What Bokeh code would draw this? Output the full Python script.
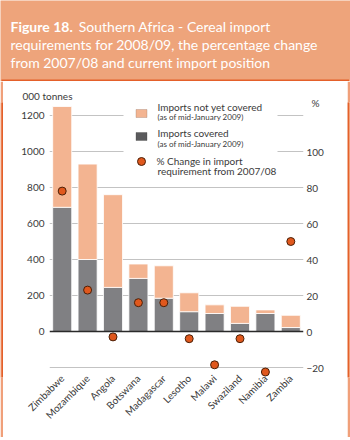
from math import pi
from bokeh.plotting import figure
from bokeh.layouts import column, row
from bokeh.models import (FactorRange, Range1d, LinearAxis, FixedTicker, Span, Label,
                          BoxAnnotation, Legend, LegendItem, ColumnDataSource, Title)
from bokeh.core.properties import value
from bokeh.embed import file_html
from bokeh.resources import INLINE

# ---------------- data ----------------
countries = ["Zimbabwe", "Mozambique", "Angola", "Botswana", "Madagascar",
             "Lesotho", "Malawi", "Swaziland", "Namibia", "Zambia"]
covered = [690, 400, 245, 295, 185, 110, 100, 45, 100, 22]          # 000 tonnes
not_covered = [560, 530, 515, 80, 180, 105, 48, 95, 20, 68]          # 000 tonnes
pct_change = [78, 23, -3, 16, 16, -4, -18.5, -4, -22.5, 50]          # %
left_ticks = [0, 200, 400, 600, 800, 1000, 1200]
right_ticks = [-20, 0, 20, 40, 60, 80, 100]
pct_unit_tick = 127
grid_ticks = [-200, 200, 400, 600, 800, 1000, 1200]

# ---------------- style ----------------
FONT = "Lato"
TXT = "#3a3a3a"
SALMON = "#f3b491"
GRAY = "#808083"
DOT = "#e0581d"
BAND = "#eea47b"
EDGE_DARK = "#e4602a"
EDGE_LIGHT = "#f0a07a"

W = 350
TOP_H = 81
PANEL_B = 437
SIDE_L, SIDE_R = 3, 3
MW = W - SIDE_L - SIDE_R
MH = PANEL_B - TOP_H

FL, FR, FT, FB = 49, 303, 102, 377
ZERO_Y = 331
PXU = 0.18
y_end = (ZERO_Y - FT) / PXU
y_start = -(FB - ZERO_Y) / PXU


def plain(w, h, bg):
    f = figure(width=w, height=h, x_axis_type=None, y_axis_type=None,
               output_backend="svg", toolbar_location=None, min_border=0,
               x_range=Range1d(0, 1), y_range=Range1d(0, 1), title=None)
    f.outline_line_color = None
    f.background_fill_color = bg
    f.border_fill_color = bg
    return f


def sbox(f, l, r, b, t, color, line=None, level="annotation"):
    f.add_layout(BoxAnnotation(left=l, right=r, bottom=b, top=t,
                               left_units="screen", right_units="screen",
                               top_units="screen", bottom_units="screen",
                               fill_color=color, fill_alpha=1, line_color=line,
                               line_width=1, level=level))


# ---------------- title band ----------------
T = plain(W, TOP_H, BAND)
sbox(T, 1, W - 1.5, 0, 2, EDGE_DARK)


def tlab(text, cx, cy, style="normal"):
    T.add_layout(Label(x=cx, y=TOP_H - cy, x_units="screen", y_units="screen",
                       text=text, text_font=FONT, text_font_size="14px",
                       text_color="white", text_font_style=style,
                       text_align="left", text_baseline="alphabetic"))


tlab("Figure 18.", 10, 25.7, style="bold")
tlab("Southern Africa - Cereal import", 78.3, 25.7)
tlab("requirements for 2008/09, the percentage change", 10, 44)
tlab("from 2007/08 and current import position", 10, 62.3)

# ---------------- side and bottom edges ----------------
L = plain(SIDE_L, MH, EDGE_LIGHT)
sbox(L, 1, 3, 0, MH, EDGE_DARK)
R = plain(SIDE_R, MH, EDGE_LIGHT)
sbox(R, 0, 1.5, 0, MH, EDGE_DARK)
B = plain(W, 440 - PANEL_B, EDGE_LIGHT)
sbox(B, 1, W - 1.5, 1.5, 3, EDGE_DARK)

# ---------------- main chart ----------------
p = figure(width=MW, height=MH, x_range=FactorRange(*countries),
           y_range=Range1d(y_start, y_end), title=None,
           output_backend="svg", toolbar_location=None,
           min_border_left=FL - SIDE_L, min_border_right=MW - (FR - SIDE_L),
           min_border_top=FT - TOP_H, min_border_bottom=PANEL_B - FB)
p.outline_line_color = None
p.background_fill_color = "white"
p.border_fill_color = "white"
p.extra_y_ranges = {"pct": Range1d(y_start / 10, y_end / 10)}


def style_axis(ax, standoff):
    ax.axis_line_color = None
    ax.major_tick_line_color = None
    ax.minor_tick_line_color = None
    ax.major_tick_out = 0
    ax.major_tick_in = 0
    ax.major_label_standoff = standoff
    ax.major_label_text_font = FONT
    ax.major_label_text_font_size = "10px"
    ax.major_label_text_color = TXT


ya = p.yaxis[0]
ya.ticker = FixedTicker(ticks=left_ticks)
style_axis(ya, 5)

ra = LinearAxis(y_range_name="pct", ticker=FixedTicker(ticks=right_ticks + [pct_unit_tick]),
                major_label_overrides={pct_unit_tick: "\u00a0\u00a0%"})
style_axis(ra, 3)
p.add_layout(ra, "right")

xa = p.xaxis[0]
style_axis(xa, -1)
xa.major_label_orientation = pi / 4

p.xgrid.visible = False
p.ygrid.ticker = FixedTicker(ticks=grid_ticks)
p.ygrid.grid_line_color = "#c3c3c3"
p.ygrid.grid_line_width = 1

p.add_layout(Title(text="000 tonnes", align="left", offset=-27, standoff=2,
                   text_font=FONT, text_font_size="10px", text_color=TXT,
                   text_font_style="normal"), "above")

src = ColumnDataSource(dict(country=countries, covered=covered,
                            not_covered=not_covered, pct=pct_change))
bars = p.vbar_stack(["covered", "not_covered"], x="country", width=0.75,
                    fill_color=[GRAY, SALMON], line_color="white",
                    line_width=0.8, source=src)
p.add_layout(Span(location=0, dimension="width", line_color="#2a2a2a", line_width=1.5))
dots = p.scatter(x="country", y="pct", y_range_name="pct", size=8,
                 fill_color=DOT, line_color="#4a2008", line_width=1, source=src)


def fx(cx):
    return cx - FL


def fy(cy):
    return FB - cy


# ---------------- legend ----------------
# white legend panel (covers the grid lines behind the key)
sbox(p, fx(123), fx(277), fy(181), fy(96), "white", level="glyph")
# swatches for the two stacked series
sbox(p, fx(135.5), fx(146.5), fy(117), fy(109), SALMON, line="#8c6a58")
sbox(p, fx(135.5), fx(146.5), fy(140), fy(132), "#5a5a5c", line="#3a3a3a")

legB = Legend(items=[LegendItem(label=value("% Change in import"), renderers=[dots])],
              location=(fx(127) + 3.5, fy(175) + 4.2), glyph_width=20, glyph_height=20,
              label_height=20, label_standoff=6, padding=4,
              spacing=0, margin=0, border_line_color=None,
              background_fill_alpha=0,
              label_text_font=FONT, label_text_font_size="10px",
              label_text_color=TXT)
p.add_layout(legB)


def lab(text, cx, cy, size="10px"):
    p.add_layout(Label(x=fx(cx), y=fy(cy), x_units="screen", y_units="screen",
                       text=text, text_font=FONT, text_font_size=size,
                       text_color=TXT, text_align="left", text_baseline="middle"))


lab("Imports not yet covered", 157, 106)
lab("(as of mid-January 2009)", 157, 116.5, size="8px")
lab("Imports covered", 157, 132.7)
lab("(as of mid-January 2009)", 157, 143, size="8px")
lab("requirement from 2007/08", 157, 170.5)

layout = column(T, row(L, p, R), B)
open("out.html", "w").write(file_html(layout, INLINE))
